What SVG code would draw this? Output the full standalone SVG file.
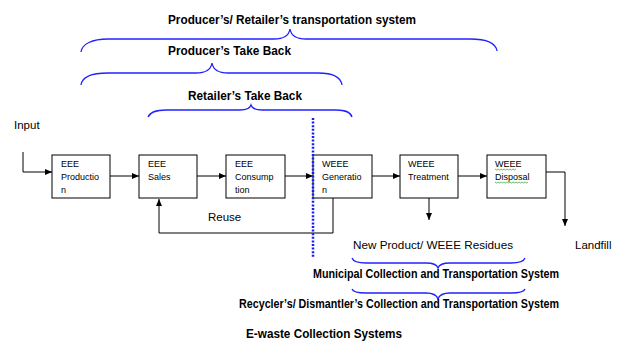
<svg xmlns="http://www.w3.org/2000/svg" width="618" height="342" viewBox="0 0 618 342">
<style>
.box{fill:#fff;stroke:#000;stroke-width:1}
.bt{font-family:"Liberation Sans",Arial,sans-serif;font-size:9px;fill:#000}
.lbl{font-family:"Liberation Sans",Arial,sans-serif;font-size:11.5px;fill:#000}
.hd{font-family:"Liberation Sans Narrow","Liberation Sans",Arial,sans-serif;font-weight:bold;font-size:13.5px;fill:#000}
.hw{font-family:"Liberation Sans",Arial,sans-serif;font-weight:bold;font-size:12px;fill:#000}
.brace{fill:none;stroke:#2222ff;stroke-width:1.3}
.conn{fill:none;stroke:#000;stroke-width:1}
.gray{stroke:#555}
.sq{fill:none;stroke:#2a9a2a;stroke-width:0.7}
</style>
<defs>
<marker id="arr" markerUnits="userSpaceOnUse" markerWidth="8" markerHeight="8" refX="7" refY="3" orient="auto">
<path d="M0,0 L7,3 L0,6 z" fill="#000"/>
</marker>
</defs>

<g id="braces">
<path class="brace" d="M81,52 C82,44 92,39 108,39 L274,39 C284,39 289,35 290,29 C291,35 296,39 306,39 L470,39 C488,39 496,44 497,51"/>
<path class="brace" d="M81,85 C82,77 92,73 108,73 L196,73 C206,73 211,69 212,63 C213,69 218,73 228,73 L318,73 C334,73 341,78 342,85"/>
<path class="brace" d="M148,117 C150,112 156,110 166,110 L240,110 C247,110 250,108 251,105 C252,108 255,110 262,110 L336,110 C346,110 351,113 352,117"/>
<path class="brace" d="M352,258 C353,261 357,263 366,263 L426,263 C433,263 437,265 438,268 C439,265 443,263 450,263 L511,263 C520,263 524,261 525,258"/>
<path class="brace" d="M352,289 C353,292 357,293 366,293 L426,293 C433,293 437,296 438,299 C439,296 443,293 450,293 L511,293 C520,293 524,292 525,289"/>
</g>

<g id="headings">
<text class="hd" x="168" y="24" textLength="248" lengthAdjust="spacingAndGlyphs">Producer’s/ Retailer’s transportation system</text>
<text class="hd" x="168" y="55" textLength="123" lengthAdjust="spacingAndGlyphs">Producer’s Take Back</text>
<text class="hd" x="188" y="100" textLength="114" lengthAdjust="spacingAndGlyphs">Retailer’s Take Back</text>
<text class="hd" x="313" y="278" textLength="246" lengthAdjust="spacingAndGlyphs">Municipal Collection and Transportation System</text>
<text class="hd" x="239" y="308" textLength="320" lengthAdjust="spacingAndGlyphs">Recycler’s/ Dismantler’s Collection and Transportation System</text>
<text class="hw" x="246" y="338" textLength="156" lengthAdjust="spacingAndGlyphs">E-waste Collection Systems</text>
</g>

<g id="labels">
<text class="lbl" x="14" y="129">Input</text>
<text class="lbl" x="208" y="221">Reuse</text>
<text class="lbl" x="353" y="249" textLength="160" lengthAdjust="spacingAndGlyphs">New Product/ WEEE Residues</text>
<text class="lbl" x="575" y="249">Landfill</text>
</g>

<g id="connectors">
<polyline class="conn" points="23,152 23,172 52,172" marker-end="url(#arr)"/>
<line class="conn" x1="110" y1="176" x2="139" y2="176" marker-end="url(#arr)"/>
<line class="conn" x1="197" y1="176" x2="226" y2="176" marker-end="url(#arr)"/>
<line class="conn" x1="285" y1="176" x2="313" y2="176" marker-end="url(#arr)"/>
<line class="conn" x1="372" y1="176" x2="400" y2="176" marker-end="url(#arr)"/>
<line class="conn" x1="458" y1="176" x2="487" y2="176" marker-end="url(#arr)"/>
<polyline class="conn" points="333,198 333,233 159,233 159,199" marker-end="url(#arr)"/>
<line class="conn" x1="429" y1="198" x2="429" y2="220" marker-end="url(#arr)"/>
<polyline class="conn" points="546,172 565,172 565,226" marker-end="url(#arr)"/>
</g>

<g id="n-production">
<rect class="box" x="52" y="155" width="58" height="43"/>
<text class="bt" x="61" y="167">EEE</text>
<text class="bt" x="61" y="180">Productio</text>
<text class="bt" x="61" y="193">n</text>
</g>
<g id="n-sales">
<rect class="box" x="139" y="155" width="58" height="43"/>
<text class="bt" x="148" y="167">EEE</text>
<text class="bt" x="148" y="180">Sales</text>
</g>
<g id="n-consumption">
<rect class="box" x="226" y="155" width="59" height="43"/>
<text class="bt" x="235" y="167">EEE</text>
<text class="bt" x="235" y="180">Consump</text>
<text class="bt" x="235" y="193">tion</text>
</g>
<g id="n-generation">
<rect class="box" x="313" y="155" width="59" height="43"/>
<text class="bt" x="322" y="167">WEEE</text>
<text class="bt" x="322" y="180">Generatio</text>
<text class="bt" x="322" y="193">n</text>
</g>
<g id="n-treatment">
<rect class="box" x="400" y="155" width="58" height="43"/>
<text class="bt" x="408" y="167">WEEE</text>
<text class="bt" x="408" y="180">Treatment</text>
</g>
<g id="n-disposal">
<rect class="box" x="487" y="155" width="59" height="43"/>
<text class="bt" x="495" y="167">WEEE</text>
<text class="bt" x="495" y="180">Disposal</text>
<path class="sq" d="M495,169 l1.5,1 l1.5,-1 l1.5,1 l1.5,-1 l1.5,1 l1.5,-1 l1.5,1 l1.5,-1 l1.5,1 l1.5,-1 l1.5,1 l1.5,-1 l1.5,1 l1.5,-1"/>
<path class="sq" d="M495,182 l1.5,1 l1.5,-1 l1.5,1 l1.5,-1 l1.5,1 l1.5,-1 l1.5,1 l1.5,-1 l1.5,1 l1.5,-1 l1.5,1 l1.5,-1 l1.5,1 l1.5,-1 l1.5,1 l1.5,-1 l1.5,1 l1.5,-1 l1.5,1 l1.5,-1 l1.5,1 l1.5,-1"/>
</g>

<g id="divider">
<line x1="313" y1="118" x2="313" y2="258" stroke="#1a1aff" stroke-width="2.5" stroke-dasharray="2,1.6"/>
</g>
</svg>
